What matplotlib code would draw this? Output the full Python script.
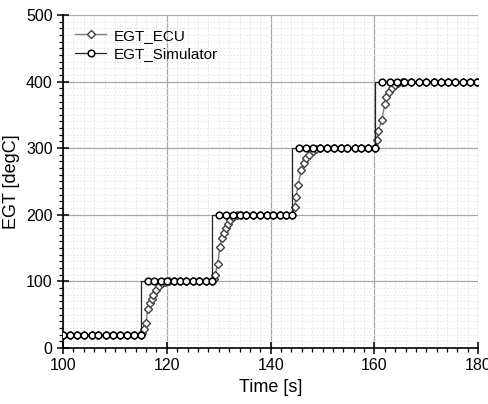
import matplotlib
matplotlib.use("Agg")
import matplotlib.pyplot as plt
from matplotlib.ticker import MultipleLocator

plt.rcParams["font.family"] = ["Liberation Sans", "DejaVu Sans"]

# Simulator output (sampled, drawn as steps)
sim_time = [100.0, 101.4, 102.7, 104.1, 105.5, 106.8, 108.2, 109.6, 110.9, 112.3, 113.7, 115.0,
            116.3, 117.6, 118.8, 120.0, 121.3, 122.5, 123.7, 125.0, 126.2, 127.5, 128.7,
            130.1, 131.4, 132.7, 134.0, 135.3, 136.6, 137.9, 139.2, 140.5, 141.8, 143.0, 144.2,
            145.5, 146.9, 148.2, 149.5, 150.8, 152.2, 153.5, 154.8, 156.2, 157.5, 158.8, 160.2,
            161.5, 162.9, 164.3, 165.7, 167.1, 168.5, 170.0, 171.4, 172.8, 174.2, 175.6, 177.0,
            178.4, 179.8]
sim_egt = [20, 20, 20, 20, 20, 20, 20, 20, 20, 20, 20, 20,
           100, 100, 100, 100, 100, 100, 100, 100, 100, 100, 100,
           200, 200, 200, 200, 200, 200, 200, 200, 200, 200, 200, 200,
           300, 300, 300, 300, 300, 300, 300, 300, 300, 300, 300, 300,
           400, 400, 400, 400, 400, 400, 400, 400, 400, 400, 400, 400,
           400, 400]

# ECU measurement
ecu_time = [100.0, 101.4, 102.7, 104.1, 105.5, 106.8, 108.2, 109.6, 110.9, 112.3, 113.7, 115.0,
            115.3, 115.6, 116.0, 116.3, 116.8, 117.1, 117.4, 117.9, 118.4, 119.0, 119.7, 120.5,
            121.3, 122.5, 123.7, 125.0, 126.2, 127.5, 128.7,
            129.0, 129.3, 129.8, 130.2, 130.6, 131.1, 131.4, 131.7, 132.2, 132.8, 133.5, 134.3,
            135.3, 136.6, 137.9, 139.2, 140.5, 141.8, 143.0, 144.2,
            144.6, 144.9, 145.3, 145.9, 146.4, 146.9, 147.4, 148.1, 148.8, 149.6,
            150.8, 152.2, 153.5, 154.8, 156.2, 157.5, 158.8, 160.2,
            160.5, 160.7, 161.4, 162.0, 162.3, 162.8, 163.3, 163.9, 164.6, 165.4,
            165.7, 167.1, 168.5, 170.0, 171.4, 172.8, 174.2, 175.6, 177.0, 178.4, 179.8]
ecu_egt = [20, 20, 20, 20, 20, 20, 20, 20, 20, 20, 20, 20,
           23, 28, 38, 59, 67, 73, 80, 87, 93, 97, 99, 100,
           100, 100, 100, 100, 100, 100, 100,
           104, 110, 126, 152, 165, 172, 180, 186, 192, 196, 199, 200,
           200, 200, 200, 200, 200, 200, 200, 200,
           212, 227, 245, 267, 277, 285, 290, 295, 298, 300,
           300, 300, 300, 300, 300, 300, 300, 300,
           312, 325, 342, 366, 377, 385, 390, 395, 398, 400,
           400, 400, 400, 400, 400, 400, 400, 400, 400, 400, 400]

fig = plt.figure(figsize=(4.89, 4.04), dpi=100)
ax = fig.add_axes([0.129, 0.139, 0.849, 0.824])

ax.plot(ecu_time, ecu_egt, color="#808080", lw=1.0, marker="D", markersize=4.3,
        markerfacecolor="white", markeredgecolor="#404040", markeredgewidth=1.0,
        label="EGT_ECU", zorder=3)
ax.plot(sim_time, sim_egt, color="#222222", lw=0.9, drawstyle="steps-pre", marker="o",
        markersize=4.8, markerfacecolor="white", markeredgecolor="black",
        markeredgewidth=1.1, label="EGT_Simulator", zorder=4)

ax.set_xlim(100, 180)
ax.set_ylim(0, 500)
ax.xaxis.set_major_locator(MultipleLocator(20))
ax.xaxis.set_minor_locator(MultipleLocator(2))
ax.yaxis.set_major_locator(MultipleLocator(100))
ax.yaxis.set_minor_locator(MultipleLocator(10))

ax.grid(which="major", color="#a8a8a8", lw=0.9, linestyle="-")
ax.grid(which="minor", color="#e2e2e2", lw=0.6, linestyle=(0, (2, 2)))
ax.set_axisbelow(True)

for s in ["top", "right"]:
    ax.spines[s].set_visible(False)
for s in ["left", "bottom"]:
    ax.spines[s].set_linewidth(1.2)

ax.tick_params(which="major", direction="inout", length=8, width=1.1, labelsize=11.5)
ax.tick_params(which="minor", direction="out", length=3, width=0.9)

ax.set_xlabel("Time [s]", fontsize=13)
ax.set_ylabel("EGT [degC]", fontsize=13)

ax.legend(loc="upper left", frameon=False, fontsize=11, handlelength=2.0,
          handletextpad=0.5, borderaxespad=0.4, labelspacing=0.3,
          bbox_to_anchor=(0.0, 0.995))

fig.savefig("out.png", dpi=100)
